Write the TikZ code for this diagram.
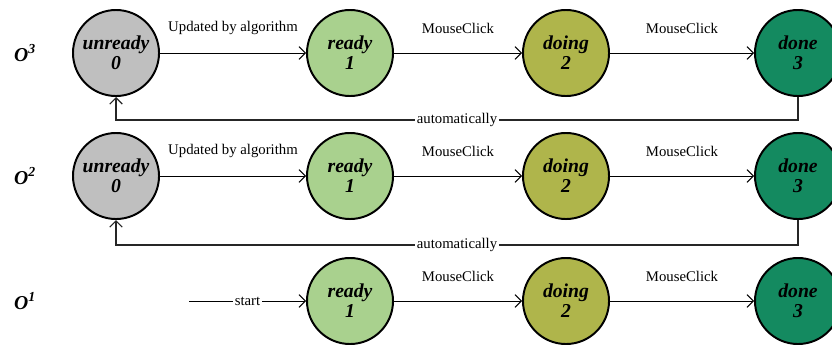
\documentclass[tikz,border=0pt]{standalone}
\usepackage{fontspec}
\setmainfont{Liberation Serif}
\usepackage{tikz}
\usetikzlibrary{arrows.meta}

\definecolor{unreadyc}{HTML}{BFBFBF}
\definecolor{readyc}{HTML}{A9D18E}
\definecolor{doingc}{HTML}{AFB54B}
\definecolor{donec}{HTML}{148A60}

\begin{document}
\begin{tikzpicture}[
            x=0.025cm, y=-0.025cm,
            state/.style={circle, draw=black, line width=1.4pt, minimum size=2.15cm, inner sep=0pt,
                          align=center, font=\fontsize{14}{14}\selectfont\bfseries\itshape},
            trans/.style={line width=0.7pt, -{Straight Barb[length=4.5pt,width=9pt]}},
            back/.style={line width=0.8pt, draw=black!85, -{Straight Barb[length=4.5pt,width=9pt]}},
            tlabel/.style={font=\fontsize{10.5}{12}\selectfont, yshift=0.62cm},
            onlabel/.style={font=\fontsize{10.5}{12}\selectfont, fill=white, inner sep=1pt},
            objlabel/.style={font=\fontsize{14}{14}\selectfont\bfseries\itshape},
          ]
          \clip (0,0) rectangle (832,344);
          % object O^3
          \node[objlabel] (obj3) at (25,53) {O\textsuperscript{3}};
          \node[state, fill=unreadyc] (unready3) at (116,53) {unready\\0};
          \node[state, fill=readyc] (ready3) at (350,53) {ready\\1};
          \node[state, fill=doingc] (doing3) at (566,53) {doing\\2};
          \node[state, fill=donec] (done3) at (798,53) {done\\3};
          \draw[trans] (unready3) -- node[tlabel] {Updated by algorithm} (ready3);
          \draw[trans] (ready3) -- node[tlabel] {MouseClick} (doing3);
          \draw[trans] (doing3) -- node[tlabel] {MouseClick} (done3);
          \draw[back] (done3.south) -- ++(0,23) -| node[pos=0.25, onlabel] {automatically} (unready3.south);
          % object O^2
          \node[objlabel] (obj2) at (25,176) {O\textsuperscript{2}};
          \node[state, fill=unreadyc] (unready2) at (116,176) {unready\\0};
          \node[state, fill=readyc] (ready2) at (350,176) {ready\\1};
          \node[state, fill=doingc] (doing2) at (566,176) {doing\\2};
          \node[state, fill=donec] (done2) at (798,176) {done\\3};
          \draw[trans] (unready2) -- node[tlabel] {Updated by algorithm} (ready2);
          \draw[trans] (ready2) -- node[tlabel] {MouseClick} (doing2);
          \draw[trans] (doing2) -- node[tlabel] {MouseClick} (done2);
          \draw[back] (done2.south) -- ++(0,25) -| node[pos=0.25, onlabel] {automatically} (unready2.south);
          % object O^1
          \node[objlabel] (obj1) at (25,301) {O\textsuperscript{1}};
          \coordinate (start1) at (189,301);
          \node[state, fill=readyc] (ready1) at (350,301) {ready\\1};
          \node[state, fill=doingc] (doing1) at (566,301) {doing\\2};
          \node[state, fill=donec] (done1) at (798,301) {done\\3};
          \draw[trans] (start1) -- node[onlabel] {start} (ready1);
          \draw[trans] (ready1) -- node[tlabel] {MouseClick} (doing1);
          \draw[trans] (doing1) -- node[tlabel] {MouseClick} (done1);
        \end{tikzpicture}
\end{document}
